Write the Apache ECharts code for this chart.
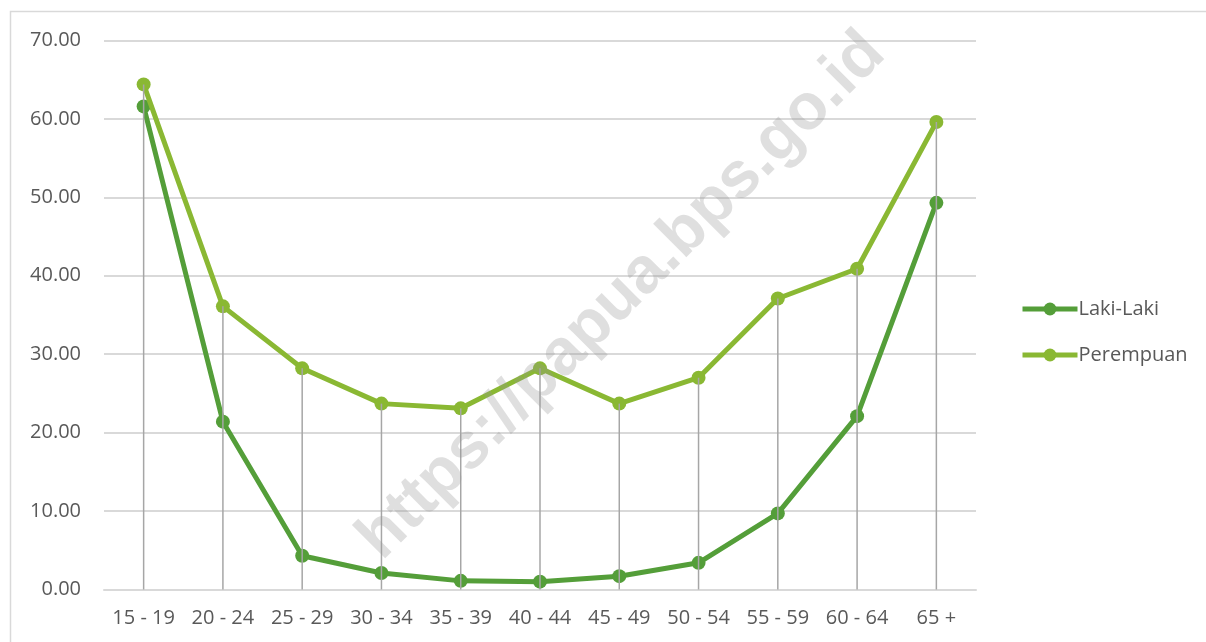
<!DOCTYPE html>
<html>
<head>
<meta charset="utf-8">
<script src="https://cdn.jsdelivr.net/npm/echarts@6/dist/echarts.min.js"></script>
<style>
  html, body { margin: 0; padding: 0; background: #fff; }
  #chart { width: 1206px; height: 642px; }
</style>
</head>
<body>
<div id="chart"></div>
<script>
// kelompok umur
var categories = ['15 - 19', '20 - 24', '25 - 29', '30 - 34', '35 - 39', '40 - 44',
  '45 - 49', '50 - 54', '55 - 59', '60 - 64', '65 +'];
var lakiLaki = [61.6, 21.4, 4.3, 2.1, 1.1, 1.0, 1.7, 3.4, 9.7, 22.1, 49.3];
var perempuan = [64.4, 36.1, 28.2, 23.7, 23.1, 28.2, 23.7, 27.0, 37.1, 40.9, 59.6];
var yTicks = [0, 10, 20, 30, 40, 50, 60, 70];

// garis jatuh (drop lines) dari titik tertinggi ke sumbu
var dropLines = categories.map(function (c, i) {
  return Math.max(lakiLaki[i], perempuan[i]);
});

var myChart = echarts.init(document.getElementById('chart'));
var txt = '#595959';
var fontFam = '"Open Sans", "Noto Sans", sans-serif';

myChart.setOption({
  animation: false,
  grid: { left: 104, right: 230, top: 40.5, bottom: 52.5 },
  graphic: [
    {
      type: 'rect',
      shape: { x: 10.5, y: 11.5, width: 1200, height: 640 },
      style: { fill: 'none', stroke: '#d9d9d9', lineWidth: 1.5 },
      silent: true, z: 0
    },
    {
      type: 'text',
      x: 622, y: 296,
      rotation: Math.PI / 4,
      style: {
        text: 'https://papua.bps.go.id',
        font: 'bold 65px "Liberation Sans", Arial, sans-serif',
        fill: 'rgba(150,150,150,0.3)',
        align: 'center',
        verticalAlign: 'middle'
      },
      silent: true, z: 100
    }
  ],
  legend: {
    orient: 'vertical',
    left: 1015, top: 294,
    itemWidth: 55, itemHeight: 16,
    itemGap: 26,
    data: ['Laki-Laki', 'Perempuan'],
    lineStyle: { width: 5 },
    textStyle: { color: txt, fontSize: 20, fontFamily: fontFam, padding: [0, 0, 0, -4] }
  },
  xAxis: {
    type: 'category',
    data: categories,
    boundaryGap: true,
    axisLine: { lineStyle: { color: '#d9d9d9', width: 2 } },
    axisTick: { show: false },
    axisLabel: { color: txt, fontSize: 20, fontFamily: fontFam, margin: 19, interval: 0 }
  },
  yAxis: {
    type: 'value',
    min: yTicks[0], max: yTicks[yTicks.length - 1], interval: 10,
    axisLine: { show: false },
    axisTick: { show: false },
    splitLine: { lineStyle: { color: '#d9d9d9', width: 2 } },
    axisLabel: {
      color: txt, fontSize: 20, fontFamily: fontFam, margin: 23,
      formatter: function (v) { return v.toFixed(2); }
    }
  },
  series: [
    {
      name: 'Laki-Laki',
      type: 'line',
      data: lakiLaki,
      symbol: 'circle',
      symbolSize: 14,
      color: '#549e39',
      lineStyle: { width: 5, color: '#549e39' },
      itemStyle: { color: '#549e39' },
      z: 3
    },
    {
      name: 'Perempuan',
      type: 'line',
      data: perempuan,
      symbol: 'circle',
      symbolSize: 14,
      color: '#8ab833',
      lineStyle: { width: 5, color: '#8ab833' },
      itemStyle: { color: '#8ab833' },
      z: 4
    },
    {
      name: 'drop',
      type: 'bar',
      data: dropLines,
      barWidth: 1.5,
      silent: true,
      itemStyle: { color: '#a6a6a6' },
      z: 5
    }
  ]
});
</script>
</body>
</html>
